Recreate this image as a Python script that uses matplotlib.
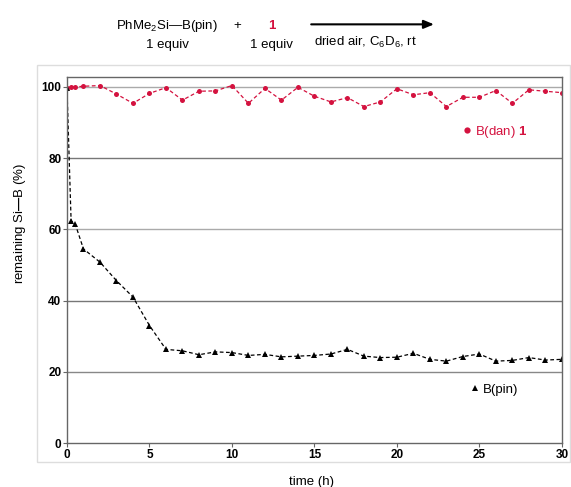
import matplotlib
matplotlib.use("Agg")
import matplotlib.pyplot as plt
from matplotlib.lines import Line2D
from matplotlib.patches import Rectangle, FancyArrowPatch

plt.rcParams['font.family'] = ['Liberation Sans', 'DejaVu Sans']
plt.rcParams['mathtext.fontset'] = 'custom'
plt.rcParams['mathtext.rm'] = 'Liberation Sans'
plt.rcParams['mathtext.bf'] = 'Liberation Sans:bold'

# time points (h)
t = [0, 0.25, 0.5, 1, 2, 3, 4, 5, 6, 7, 8, 9, 10, 11, 12, 13, 14, 15,
     16, 17, 18, 19, 20, 21, 22, 23, 24, 25, 26, 27, 28, 29, 30]

# B(dan) 1 remaining (%)
dan = [99.7, 100.0, 100.0, 100.2, 100.4, 98.0, 95.4, 98.2, 99.8, 96.3, 98.8,
       98.9, 100.4, 95.4, 99.6, 96.3, 99.9, 97.4, 95.8, 97.0, 94.5, 95.8,
       99.5, 97.8, 98.4, 94.5, 97.1, 97.1, 99.0, 95.4, 99.2, 98.8, 98.4]

# B(pin) remaining (%)
pin = [99.7, 62.4, 61.5, 54.5, 50.8, 45.6, 41.0, 33.0, 26.3, 25.9, 24.8,
       25.6, 25.4, 24.6, 24.9, 24.2, 24.4, 24.6, 25.0, 26.3, 24.4, 24.0,
       24.1, 25.2, 23.5, 23.0, 24.3, 25.0, 23.0, 23.2, 24.0, 23.3, 23.5]

red = '#d4123f'
dash = '\u2014'

fig = plt.figure(figsize=(5.71, 4.87), dpi=100)
fig.patches.append(Rectangle((0.065, 0.051), 0.933, 0.815, transform=fig.transFigure,
                             fill=False, edgecolor='#dddddd', linewidth=1.0))

ax = fig.add_axes([0.1173, 0.0903, 0.8667, 0.7516])

ax.plot(t, dan, linestyle='--', dashes=(3, 2), color=red, linewidth=0.9,
        marker='o', markersize=3.6, markeredgewidth=0)
ax.plot(t, pin, linestyle='--', dashes=(3, 2), color='black', linewidth=0.9,
        marker='^', markersize=4.0, markeredgewidth=0)

ax.set_xlim(0, 30)
ax.set_ylim(0, 102.8)
ax.set_xticks([0, 5, 10, 15, 20, 25, 30])
ax.set_yticks([0, 20, 40, 60, 80, 100])
for yv, c in zip([20, 40, 60, 80, 100], ['#888888', '#777777', '#aaaaaa', '#777777', '#aaaaaa']):
    ax.axhline(yv, color=c, linewidth=1.0, zorder=0)

for sp in ax.spines.values():
    sp.set_color('#666666')
    sp.set_linewidth(1.0)
ax.tick_params(direction='out', length=3, width=0.8, color='#666666',
               labelsize=8.5, pad=1)
for lab in ax.get_xticklabels() + ax.get_yticklabels():
    lab.set_fontweight('bold')

# axis titles placed in figure coords
fig.text(0.546, 0.011, 'time (h)', fontsize=9.5, ha='center', va='center')
fig.text(0.035, 0.542, 'remaining Si$\\mathbf{' + dash + '}$B (%)', fontsize=9.5,
         ha='center', va='center', rotation=90)

# series labels
h1 = Line2D([], [], linestyle='none', marker='o', color=red, markersize=4.5, markeredgewidth=0)
leg1 = ax.legend([h1], [r'B(dan) $\mathbf{1}$'], loc='center left',
                 bbox_to_anchor=(0.80, 0.85), frameon=False, fontsize=9.5,
                 handlelength=0.6, handletextpad=0.3, borderpad=0, borderaxespad=0,
                 labelcolor=red)
ax.add_artist(leg1)
h2 = Line2D([], [], linestyle='none', marker='^', color='black', markersize=4.5, markeredgewidth=0)
ax.legend([h2], ['B(pin)'], loc='center left',
          bbox_to_anchor=(0.816, 0.145), frameon=False, fontsize=9.5,
          handlelength=0.6, handletextpad=0.3, borderpad=0, borderaxespad=0)

# reaction scheme header
fig.text(0.293, 0.947, 'PhMe$_2$Si' + dash + 'B(pin)', fontsize=9.5, ha='center', va='center')
fig.text(0.415, 0.947, '+', fontsize=9.5, ha='center', va='center')
fig.text(0.476, 0.947, '1', fontsize=9.5, ha='center', va='center', color=red, fontweight='bold')
fig.text(0.293, 0.907, '1 equiv', fontsize=9.5, ha='center', va='center')
fig.text(0.476, 0.907, '1 equiv', fontsize=9.5, ha='center', va='center')
fig.text(0.641, 0.912, r'dried air, C$_6$D$_6$, rt', fontsize=9.5, ha='center', va='center')
fig.patches.append(FancyArrowPatch((0.545, 0.950), (0.760, 0.950), transform=fig.transFigure,
                                   arrowstyle='-|>,head_length=6,head_width=2.5',
                                   color='black', linewidth=1.5, shrinkA=0, shrinkB=0))

fig.savefig('out.png', dpi=100)
